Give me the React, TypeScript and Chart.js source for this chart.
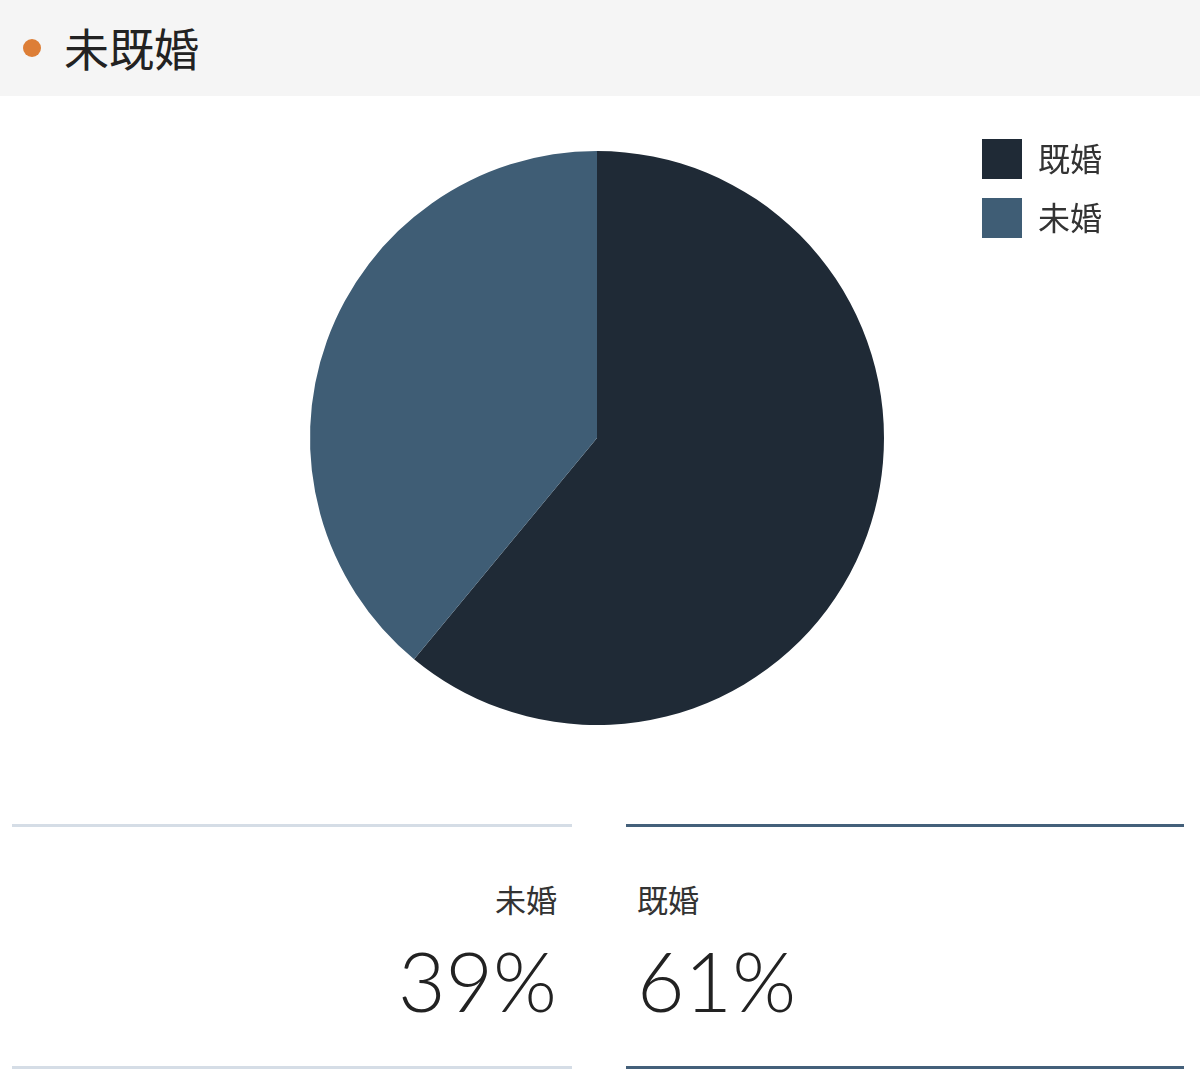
import { useEffect, useRef } from "react"
import { Chart, registerables } from "chart.js"

Chart.register(...registerables)

const labels = ["既婚", "未婚"]
const values = [61, 39]
const colors = ["#1f2a36", "#3f5d75"]

const cjk = '"Noto Sans CJK JP", "Noto Sans", sans-serif'

function PieChart() {
  const chartRef = useRef<HTMLCanvasElement>(null)
  const chartInstance = useRef<Chart | null>(null)

  useEffect(() => {
    if (!chartRef.current) return
    const ctx = chartRef.current.getContext("2d")
    if (!ctx) return

    if (chartInstance.current) {
      chartInstance.current.destroy()
    }

    chartInstance.current = new Chart(ctx, {
      type: "pie",
      data: {
        labels,
        datasets: [
          {
            data: values,
            backgroundColor: colors,
            borderWidth: 0,
            radius: 287,
          },
        ],
      },
      options: {
        animation: false,
        responsive: true,
        maintainAspectRatio: false,
        layout: {
          padding: { left: 231, right: 88, top: 24, bottom: 30 },
        },
        plugins: {
          legend: {
            position: "right",
            align: "start",
            labels: {
              boxWidth: 40,
              boxHeight: 40,
              padding: 19,
              color: "#333",
              font: { family: cjk, size: 32 },
            },
          },
          tooltip: { enabled: false },
        },
      },
    })

    return () => {
      if (chartInstance.current) {
        chartInstance.current.destroy()
        chartInstance.current = null
      }
    }
  }, [])

  return (
    <div style={{ position: "relative", width: 1200, height: 690 }}>
      <canvas ref={chartRef} />
    </div>
  )
}

export default function App() {
  useEffect(() => {
    document.body.style.margin = "0"
  }, [])

  const stat = (label: string, value: number, side: "left" | "right") => {
    const isLeft = side === "left"
    return (
      <div
        style={{
          position: "absolute",
          left: isLeft ? 12 : 626,
          width: isLeft ? 560 : 558,
          top: 38,
          height: 239,
          borderTop: `3px solid ${isLeft ? "#d5dde6" : "#44607a"}`,
          borderBottom: `3px solid ${isLeft ? "#d5dde6" : "#44607a"}`,
          textAlign: isLeft ? "right" : "left",
        }}
      >
        <div
          style={{
            position: "absolute",
            top: 52,
            left: isLeft ? undefined : 11,
            right: isLeft ? 15 : undefined,
            fontFamily: cjk,
            fontSize: 31,
            lineHeight: "40px",
            color: "#333",
          }}
        >
          {label}
        </div>
        <div
          style={{
            position: "absolute",
            top: 112,
            left: isLeft ? undefined : 11,
            right: isLeft ? 15 : undefined,
            fontFamily: 'Lato, "Noto Sans", sans-serif',
            fontWeight: 300,
            fontSize: 82,
            lineHeight: "82px",
            color: "#222",
            whiteSpace: "nowrap",
          }}
        >
          {value}%
        </div>
      </div>
    )
  }

  return (
    <div style={{ width: 1200, height: 1090, background: "#fff", overflow: "hidden" }}>
      <div
        style={{
          height: 96,
          background: "#f5f5f5",
          position: "relative",
        }}
      >
        <div
          style={{
            position: "absolute",
            left: 23,
            top: 39,
            width: 18,
            height: 18,
            borderRadius: "50%",
            background: "#dd7e36",
          }}
        />
        <div
          style={{
            position: "absolute",
            left: 64,
            top: 22,
            fontFamily: cjk,
            fontSize: 45,
            lineHeight: "52px",
            color: "#222",
          }}
        >
          未既婚
        </div>
      </div>
      <PieChart />
      <div style={{ position: "relative", height: 304 }}>
        {stat(labels[1], values[1], "left")}
        {stat(labels[0], values[0], "right")}
      </div>
    </div>
  )
}
